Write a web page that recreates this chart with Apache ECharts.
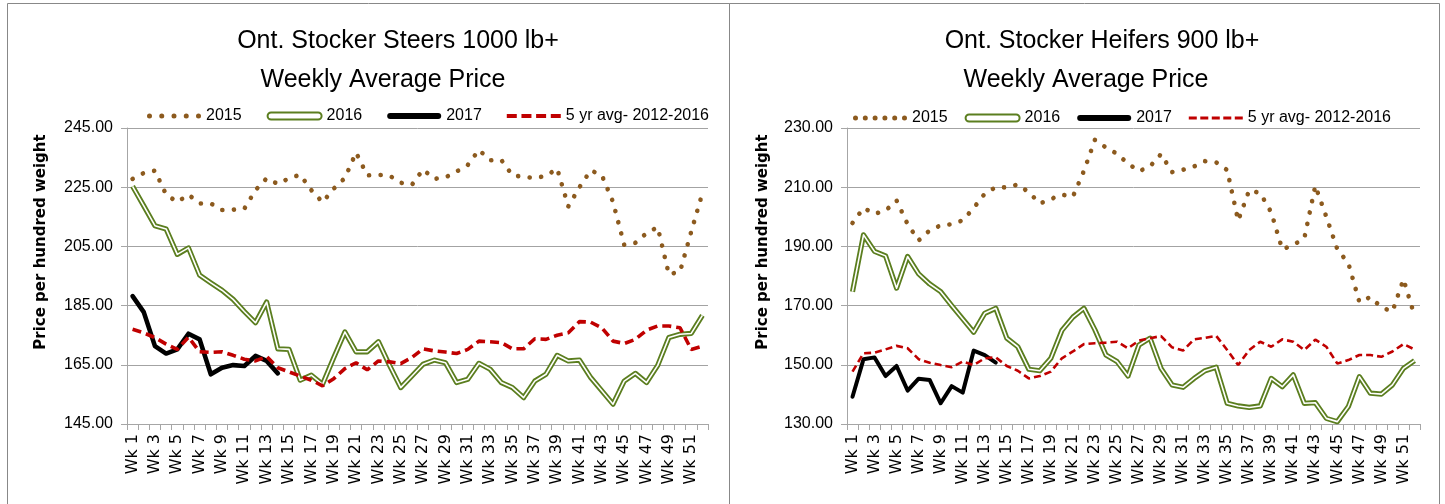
<!DOCTYPE html>
<html><head><meta charset="utf-8">
<script src="https://cdn.jsdelivr.net/npm/echarts@6/dist/echarts.min.js"></script>
<style>html,body{margin:0;padding:0;background:#fff}#c{width:1445px;height:504px}</style>
</head><body><div id="c"></div>
<script>
const weeks = ['Wk 1','Wk 2','Wk 3','Wk 4','Wk 5','Wk 6','Wk 7','Wk 8','Wk 9','Wk 10','Wk 11','Wk 12','Wk 13','Wk 14','Wk 15','Wk 16','Wk 17','Wk 18','Wk 19','Wk 20','Wk 21','Wk 22','Wk 23','Wk 24','Wk 25','Wk 26','Wk 27','Wk 28','Wk 29','Wk 30','Wk 31','Wk 32','Wk 33','Wk 34','Wk 35','Wk 36','Wk 37','Wk 38','Wk 39','Wk 40','Wk 41','Wk 42','Wk 43','Wk 44','Wk 45','Wk 46','Wk 47','Wk 48','Wk 49','Wk 50','Wk 51','Wk 52'];
const legendNames = ['2015','2016','2017','5 yr avg- 2012-2016'];
const titlesSteers = ['Ont. Stocker Steers 1000 lb+','Weekly Average Price'];
const titlesHeifers = ['Ont. Stocker Heifers 900 lb+','Weekly Average Price'];
const yAxisName = 'Price per hundred weight';

// Steers 1000 lb+
const steers2015 = [227.8,229.8,230.6,222.5,220.0,222.5,219.5,219.5,217.3,217.4,217.7,224.0,228.0,226.1,228.0,229.2,224.0,219.9,224.5,228.1,236.7,229.0,229.2,228.9,226.5,225.8,231.0,227.8,228.3,230.3,232.5,237.6,234.1,234.2,229.0,228.5,228.1,228.8,231.3,218.5,225.0,230.7,229.0,220.0,205.5,206.2,209.5,211.5,195.5,196.5,210.0,223.0];
const steers2016 = [225.3,218.7,212.0,210.9,202.3,204.5,195.3,192.7,190.2,187.1,183.0,179.2,186.2,170.4,170.2,159.8,161.5,158.4,167.4,176.1,169.4,169.4,172.8,164.8,157.3,161.2,165.2,166.6,165.7,159.0,160.1,165.5,163.5,159.0,157.3,153.9,159.5,161.8,168.2,166.3,166.6,160.7,156.2,151.7,159.5,162.1,159.0,164.8,174.2,175.3,175.6,181.7];
const steers2017 = [188.2,182.8,171.3,168.8,170.2,175.5,173.6,161.8,164.0,164.9,164.6,168.0,166.3,162.1];
const steers5yr = [177.0,175.8,174.2,172.0,170.2,174.3,169.4,169.2,169.4,168.2,166.9,166.3,167.8,164.0,162.6,161.2,159.8,157.9,160.3,163.7,165.7,163.3,166.3,166.0,165.4,167.5,170.4,169.7,169.3,168.8,170.2,173.0,172.8,172.5,170.4,170.4,173.8,173.6,175.0,175.8,179.6,179.4,177.5,173.0,172.2,173.6,176.7,178.1,178.1,177.5,170.2,171.3];

// Heifers 900 lb+
const heifers2015 = [197.9,203.0,201.0,202.1,205.5,197.5,192.0,195.4,197.1,197.5,198.8,203.0,207.8,210.0,209.9,210.9,208.3,204.5,206.0,207.5,206.8,215.5,226.0,223.4,221.3,218.0,215.4,217.0,221.2,215.1,215.9,217.0,218.8,218.4,215.8,198.7,209.0,208.0,201.5,189.0,190.5,192.7,210.5,200.0,189.0,184.3,171.2,172.9,169.4,168.0,178.9,166.6];
const heifers2016 = [174.7,193.9,188.3,186.8,175.9,186.6,180.7,177.3,174.7,170.0,165.5,161.0,167.4,169.1,159.0,156.1,148.5,148.0,152.2,161.6,166.1,169.1,161.8,153.3,151.1,146.2,156.7,159.0,148.8,143.2,142.4,145.4,148.0,149.2,137.0,136.1,135.6,136.1,145.4,142.6,146.6,137.0,137.2,131.9,130.8,135.9,146.0,140.4,140.1,143.2,148.8,151.4];
const heifers2017 = [139.2,151.9,152.5,146.2,149.6,141.3,145.3,144.9,137.0,142.8,140.6,154.8,153.3,150.7];
const heifers5yr = [147.7,153.9,154.1,155.2,156.4,155.6,151.9,150.7,149.9,149.2,151.1,149.9,152.2,152.5,149.6,148.0,145.4,146.2,147.7,152.2,154.5,157.0,157.3,157.5,157.8,155.6,158.2,159.0,159.7,155.9,154.8,158.6,159.1,159.8,155.0,149.9,155.0,157.8,156.1,158.6,157.8,155.0,158.5,156.1,150.4,151.6,153.3,153.3,152.7,154.5,157.0,155.2];

const BROWN = '#8c5a1e', GREEN = '#5b7e1f', RED = '#c00000', GRID = '#a3a3a3', AXIS = '#a6a6a6';
const FONT = 'Liberation Sans';

function dotsPath(n) {
  const step = (54 - 5) / (n - 1);
  let p = 'path://';
  for (let i = 0; i < n; i++) {
    const x = (i * step).toFixed(2);
    p += 'M' + x + ',2.5a2.5,2.5 0 1,0 5,0a2.5,2.5 0 1,0 -5,0Z';
  }
  return p;
}
function dashPath(n, w, h) {
  const gap = (54 - n * w) / (n - 1);
  let p = 'path://';
  for (let i = 0; i < n; i++) {
    const x = (i * (w + gap)).toFixed(2);
    p += 'M' + x + ',0h' + w + 'v' + h + 'h-' + w + 'Z';
  }
  return p;
}
const pill = 'path://M3.5,0H50.5A3.5,3.5,0,0,1,50.5,7H3.5A3.5,3.5,0,0,1,3.5,0Z';
const pillThin = 'path://M3,0H51A3,3,0,0,1,51,6H3A3,3,0,0,1,3,0Z';

function legendFor(left, top, gap, nDots, dashN, dashW, dashH) {
  return {
    left: left, top: top, padding: 0, itemWidth: 54, itemHeight: 7, itemGap: gap,
    selectedMode: false,
    textStyle: { fontFamily: FONT, fontSize: 16, color: '#000' },
    data: [
      { name: legendNames[0], icon: dotsPath(nDots), itemStyle: { color: BROWN, borderWidth: 0 } },
      { name: legendNames[1], icon: pill, itemStyle: { color: '#fff', borderColor: GREEN, borderWidth: 2 } },
      { name: legendNames[2], icon: pillThin, itemStyle: { color: '#000', borderWidth: 0 } },
      { name: legendNames[3], icon: dashPath(dashN, dashW, dashH), itemStyle: { color: RED, borderWidth: 0 } }
    ]
  };
}

function xAxisFor(gi) {
  return {
    type: 'category', gridIndex: gi, data: weeks, boundaryGap: true,
    axisLine: { show: true, lineStyle: { color: AXIS, width: 1 } },
    axisTick: { show: true, interval: 0, length: 6, lineStyle: { color: AXIS } },
    axisLabel: { interval: 1, rotate: 90, margin: 10, fontFamily: 'DejaVu Sans', fontSize: 16, color: '#000' },
    splitLine: { show: false }
  };
}
function yAxisFor(gi, min, max) {
  return {
    type: 'value', gridIndex: gi, min: min, max: max, interval: 20,
    axisLine: { show: true, lineStyle: { color: AXIS, width: 1 } },
    axisTick: { show: true, length: 6, lineStyle: { color: AXIS } },
    axisLabel: { margin: 14, fontFamily: FONT, fontSize: 16, color: '#000', formatter: v => v.toFixed(2) },
    splitLine: { show: true, lineStyle: { color: GRID, width: 1 } }
  };
}
function seriesFor(idx, d15, d16, d17, d5, thin) {
  const base = { type: 'line', xAxisIndex: idx, yAxisIndex: idx, symbol: 'none', silent: true, animation: false };
  return [
    Object.assign({}, base, { name: legendNames[0], data: d15, lineStyle: { color: BROWN, width: 4.6, type: [0.1, 11.5], cap: 'round' } }),
    Object.assign({}, base, { name: legendNames[1], data: d16, lineStyle: { color: GREEN, width: 5.2, join: 'round' } }),
    Object.assign({}, base, { name: '2016 core', data: d16, lineStyle: { color: '#ffffff', width: 1.6, join: 'round' } }),
    Object.assign({}, base, { name: legendNames[2], data: d17, lineStyle: { color: '#000', width: thin ? 4 : 4.6, join: 'round', cap: 'round' } }),
    Object.assign({}, base, { name: legendNames[3], data: d5, lineStyle: { color: RED, width: thin ? 2.6 : 3.6, type: thin ? [7, 4] : [9, 5] } })
  ];
}

const titleStyle = { fontFamily: FONT, fontSize: 25, fontWeight: 'normal', color: '#000' };
const chart = echarts.init(document.getElementById('c'), null, { renderer: 'canvas' });
chart.setOption({
  animation: false,
  backgroundColor: '#fff',
  textStyle: { fontFamily: FONT },
  title: [
    { text: titlesSteers[0], left: 398, top: 29, textAlign: 'center', padding: 0, textStyle: titleStyle },
    { text: titlesSteers[1], left: 383, top: 68, textAlign: 'center', padding: 0, textStyle: titleStyle },
    { text: titlesHeifers[0], left: 1102, top: 29, textAlign: 'center', padding: 0, textStyle: titleStyle },
    { text: titlesHeifers[1], left: 1086, top: 68, textAlign: 'center', padding: 0, textStyle: titleStyle }
  ],
  legend: [
    legendFor(147, 108, 25, 5, 4, 10, 4),
    legendFor(853, 110, 17, 6, 5, 8, 3)
  ],
  grid: [
    { left: 127, top: 128, width: 581, height: 296, containLabel: false },
    { left: 847, top: 128, width: 573, height: 296, containLabel: false }
  ],
  xAxis: [xAxisFor(0), xAxisFor(1)],
  yAxis: [yAxisFor(0, 145, 245), yAxisFor(1, 130, 230)],
  series: [].concat(
    seriesFor(0, steers2015, steers2016, steers2017, steers5yr, false),
    seriesFor(1, heifers2015, heifers2016, heifers2017, heifers5yr, true)
  ),
  graphic: [
    { type: 'rect', silent: true, z: -10, shape: { x: 7.5, y: 3.5, width: 722, height: 620 }, style: { fill: null, stroke: '#888', lineWidth: 1 } },
    { type: 'rect', silent: true, z: -10, shape: { x: 729.5, y: 3.5, width: 710, height: 620 }, style: { fill: null, stroke: '#888', lineWidth: 1 } },
    { type: 'text', silent: true, x: 41, y: 242, rotation: Math.PI / 2, style: { text: yAxisName, fontFamily: 'DejaVu Sans', fontSize: 15, fontWeight: 'bold', fill: '#000', align: 'center', verticalAlign: 'middle' } },
    { type: 'text', silent: true, x: 763, y: 242, rotation: Math.PI / 2, style: { text: yAxisName, fontFamily: 'DejaVu Sans', fontSize: 15, fontWeight: 'bold', fill: '#000', align: 'center', verticalAlign: 'middle' } }
  ]
});
</script>
</body></html>
